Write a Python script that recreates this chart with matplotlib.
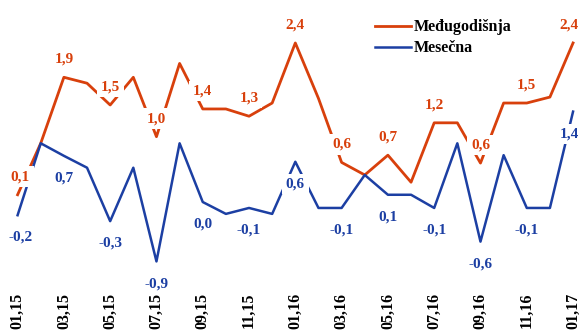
import matplotlib
matplotlib.use("Agg")
import matplotlib.pyplot as plt
import numpy as np

# monthly inflation, 01.2015 - 01.2017
months = ["01,15", "02,15", "03,15", "04,15", "05,15", "06,15", "07,15", "08,15",
          "09,15", "10,15", "11,15", "12,15", "01,16", "02,16", "03,16", "04,16",
          "05,16", "06,16", "07,16", "08,16", "09,16", "10,16", "11,16", "12,16",
          "01,17"]
medjugodisnja = [0.14, 0.92, 1.92, 1.83, 1.50, 1.92, 1.02, 2.13, 1.44, 1.44, 1.33, 1.53,
                 2.44, 1.60, 0.63, 0.44, 0.74, 0.33, 1.23, 1.23, 0.62, 1.53, 1.53, 1.62,
                 2.44]
mesecna = [-0.17, 0.92, 0.73, 0.55, -0.26, 0.55, -0.87, 0.92, 0.03, -0.15, -0.06, -0.15,
           0.64, -0.06, -0.06, 0.44, 0.14, 0.14, -0.06, 0.92, -0.57, 0.74, -0.06, -0.06,
           1.40]

orange = "#D8400C"
blue = "#1C3FA3"

plt.rcParams['font.family'] = ['Liberation Serif', 'DejaVu Serif']

fig = plt.figure(figsize=(5.8, 3.36), dpi=100)
ax = fig.add_axes([0, 46 / 336, 1, 290 / 336])

x = np.arange(len(months))
ax.plot(x, medjugodisnja, color=orange, lw=2.0, label="Međugodišnja", zorder=2)
ax.plot(x, mesecna, color=blue, lw=1.8, label="Mesečna", zorder=2)

# value labels every second month, white box cuts the line
n = len(months)
for i in range(0, n, 2):
    dx = 2 if i == 0 else (-3 if i == n - 1 else 0)
    ax.annotate(f"{medjugodisnja[i]:.1f}".replace(".", ","), (x[i], medjugodisnja[i]),
                xytext=(dx, 13), textcoords="offset points", ha="center", va="center",
                color=orange, fontsize=11, fontweight="bold", zorder=3,
                bbox=dict(boxstyle="square,pad=0.25", fc="white", ec="none"))
    ax.annotate(f"{mesecna[i]:.1f}".replace(".", ","), (x[i], mesecna[i]),
                xytext=(dx, -16), textcoords="offset points", ha="center", va="center",
                color=blue, fontsize=11, fontweight="bold", zorder=3,
                bbox=dict(boxstyle="square,pad=0.25", fc="white", ec="none"))

ax.set_xlim(-0.76, 24.3)
ax.set_ylim((204 - 290) / 66, 204 / 66)
ax.set_xticks(x[::2])
ax.set_xticklabels(months[::2], rotation=90, fontsize=11.5, fontweight="bold")
ax.tick_params(axis="x", length=0, pad=2)
ax.set_yticks([])
for s in ax.spines.values():
    s.set_visible(False)

leg = ax.legend(loc="upper left", bbox_to_anchor=(369 / 580, 1 - 13 / 290), frameon=False,
                prop=dict(size=11.5, weight="bold"), handlelength=2.2, handletextpad=0.2,
                labelspacing=0.3, borderaxespad=0)

fig.savefig("out.png", dpi=100)
